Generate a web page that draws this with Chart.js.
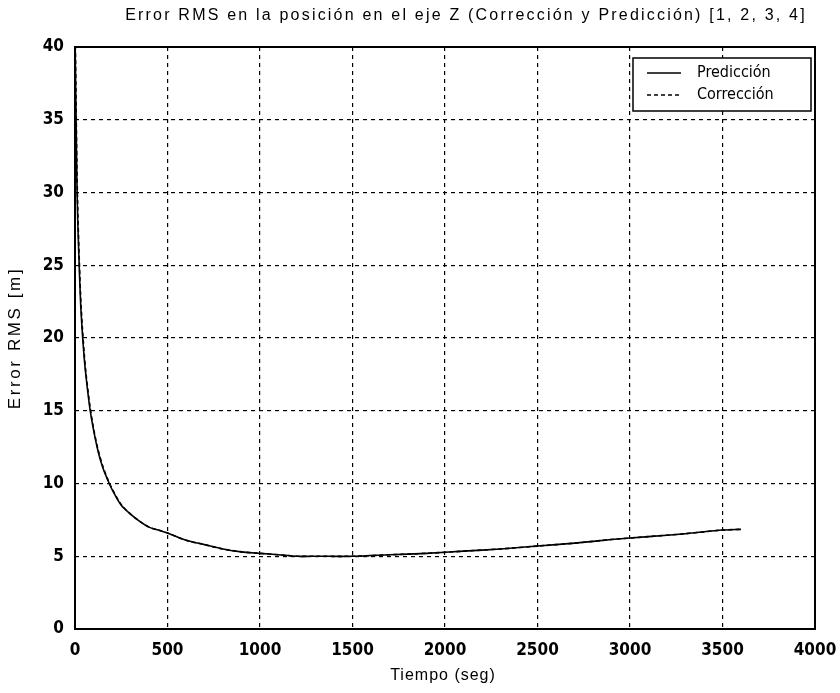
<!DOCTYPE html>
<html>
<head>
<meta charset="utf-8">
<script src="https://cdn.jsdelivr.net/npm/chart.js@4"></script>
<style>
  html, body { margin: 0; padding: 0; background: #ffffff; }
  #wrap { width: 840px; height: 693px; }
</style>
</head>
<body>
<div id="wrap"><canvas id="chart" width="840" height="693"></canvas></div>
<script>
// tiempo (seg)
const tiempo = [0, 5, 10, 15, 20, 30, 40, 50, 60, 80, 100, 125, 150, 175, 200, 250, 300, 350, 400, 450, 500,
  600, 700, 800, 900, 1000, 1100, 1200, 1300, 1500, 1700, 1900, 2100, 2300, 2500, 2700, 2900, 3100, 3300, 3500, 3600];

// Error RMS [m]
const prediccion = [41, 36, 31, 28, 26, 22.5, 20.3, 18.6, 17.3, 15.2, 13.7, 12.2, 11.1, 10.3, 9.6, 8.5, 7.9, 7.4, 7.0, 6.8, 6.6,
  6.1, 5.8, 5.5, 5.3, 5.2, 5.1, 5.0, 5.0, 5.0, 5.1, 5.2, 5.35, 5.5, 5.7, 5.9, 6.15, 6.35, 6.55, 6.8, 6.85];
const correccion = [42, 37, 32, 28.8, 26.6, 23, 20.7, 18.9, 17.5, 15.4, 13.8, 12.3, 11.2, 10.35, 9.65, 8.55, 7.9, 7.4, 7.0, 6.8, 6.6,
  6.1, 5.8, 5.5, 5.3, 5.2, 5.1, 5.0, 5.0, 5.0, 5.1, 5.2, 5.35, 5.5, 5.7, 5.9, 6.15, 6.35, 6.55, 6.8, 6.85];

const xTicks = [0, 500, 1000, 1500, 2000, 2500, 3000, 3500, 4000];
const yTicks = [0, 5, 10, 15, 20, 25, 30, 35, 40];

const tituloTexto = "Error RMS en la posición en el eje Z (Corrección y Predicción) [1, 2, 3, 4]";
const tituloX = "Tiempo (seg)";
const tituloY = "Error RMS [m]";

const FONT = "'Liberation Sans Narrow', 'DejaVu Sans Condensed', Arial, sans-serif";
const FONT_T = "'Liberation Sans', Arial, sans-serif";

// títulos con espaciado entre letras (como en la figura original)
const titulos = {
  id: 'titulos',
  afterDraw(chart) {
    const ctx = chart.ctx;
    const a = chart.chartArea;
    ctx.save();
    ctx.fillStyle = '#000';
    ctx.textAlign = 'center';
    ctx.textBaseline = 'middle';
    ctx.letterSpacing = '2.2px';
    ctx.font = '16px ' + FONT_T;
    ctx.fillText(tituloTexto, 466, 16);
    ctx.letterSpacing = '1px';
    ctx.fillText(tituloX, (a.left + a.right) / 2 - 2, 676);
    ctx.letterSpacing = '2.6px';
    ctx.font = '17px ' + FONT_T;
    ctx.translate(15, 338);
    ctx.rotate(-Math.PI / 2);
    ctx.fillText(tituloY, 0, 0);
    ctx.restore();
  }
};

// leyenda dentro del área (como MATLAB)
const leyendaInterior = {
  id: 'leyendaInterior',
  afterDatasetsDraw(chart) {
    const ctx = chart.ctx;
    const a = chart.chartArea;
    const w = 178, h = 53;
    const x0 = a.right - 4 - w, y0 = a.top + 11;
    ctx.save();
    ctx.fillStyle = '#ffffff';
    ctx.fillRect(x0, y0, w, h);
    ctx.strokeStyle = '#000';
    ctx.lineWidth = 1.5;
    ctx.strokeRect(x0, y0, w, h);
    ctx.font = '16px ' + FONT;
    ctx.fillStyle = '#000';
    ctx.textBaseline = 'middle';
    chart.data.datasets.forEach((ds, i) => {
      const yy = y0 + 15 + i * 22;
      ctx.beginPath();
      ctx.setLineDash(ds.borderDash || []);
      ctx.lineWidth = 1.3;
      ctx.moveTo(x0 + 14, yy);
      ctx.lineTo(x0 + 48, yy);
      ctx.stroke();
      ctx.setLineDash([]);
      ctx.fillText(ds.label, x0 + 64, yy);
    });
    ctx.restore();
  }
};

const marco = {
  id: 'marco',
  afterDatasetsDraw(chart) {
    const a = chart.chartArea;
    const ctx = chart.ctx;
    ctx.save();
    ctx.strokeStyle = '#000';
    ctx.lineWidth = 2;
    ctx.strokeRect(a.left, a.top, a.right - a.left, a.bottom - a.top);
    ctx.restore();
  }
};

new Chart(document.getElementById('chart'), {
  type: 'line',
  data: {
    datasets: [
      {
        label: 'Predicción',
        data: tiempo.map((t, i) => ({ x: t, y: prediccion[i] })),
        borderColor: '#000',
        borderWidth: 1.6,
        pointRadius: 0,
        tension: 0.3,
        fill: false
      },
      {
        label: 'Corrección',
        data: tiempo.map((t, i) => ({ x: t, y: correccion[i] })),
        borderColor: '#000',
        borderWidth: 1.6,
        borderDash: [4, 3],
        pointRadius: 0,
        tension: 0.3,
        fill: false
      }
    ]
  },
  options: {
    responsive: false,
    animation: false,
    layout: { padding: { left: 0, right: 25, top: 47, bottom: 0 } },
    plugins: {
      legend: { display: false },
      tooltip: { enabled: false },
      title: { display: false }
    },
    scales: {
      x: {
        type: 'linear',
        min: 0,
        max: 4000,
        afterBuildTicks: s => { s.ticks = xTicks.map(v => ({ value: v })); },
        afterFit: s => { s.height = 64; s.paddingLeft = 0; s.paddingRight = 0; },
        grid: {
          color: '#000',
          lineWidth: 1.2,
          tickLength: 0,
          drawTicks: false
        },
        border: { display: false, dash: [4, 4] },
        ticks: {
          color: '#000',
          padding: 11,
          maxRotation: 0,
          callback: v => String(v),
          font: { family: FONT, size: 17, weight: 'bold' }
        }
      },
      y: {
        type: 'linear',
        min: 0,
        max: 40,
        afterBuildTicks: s => { s.ticks = yTicks.map(v => ({ value: v })); },
        afterFit: s => { s.width = 75; s.paddingTop = 0; s.paddingBottom = 0; },
        grid: {
          color: '#000',
          lineWidth: 1.2,
          tickLength: 0,
          drawTicks: false
        },
        border: { display: false, dash: [4, 4] },
        ticks: {
          color: '#000',
          padding: 11,
          callback: v => String(v),
          font: { family: FONT, size: 17, weight: 'bold' }
        }
      }
    }
  },
  plugins: [marco, leyendaInterior, titulos]
});
</script>
</body>
</html>
